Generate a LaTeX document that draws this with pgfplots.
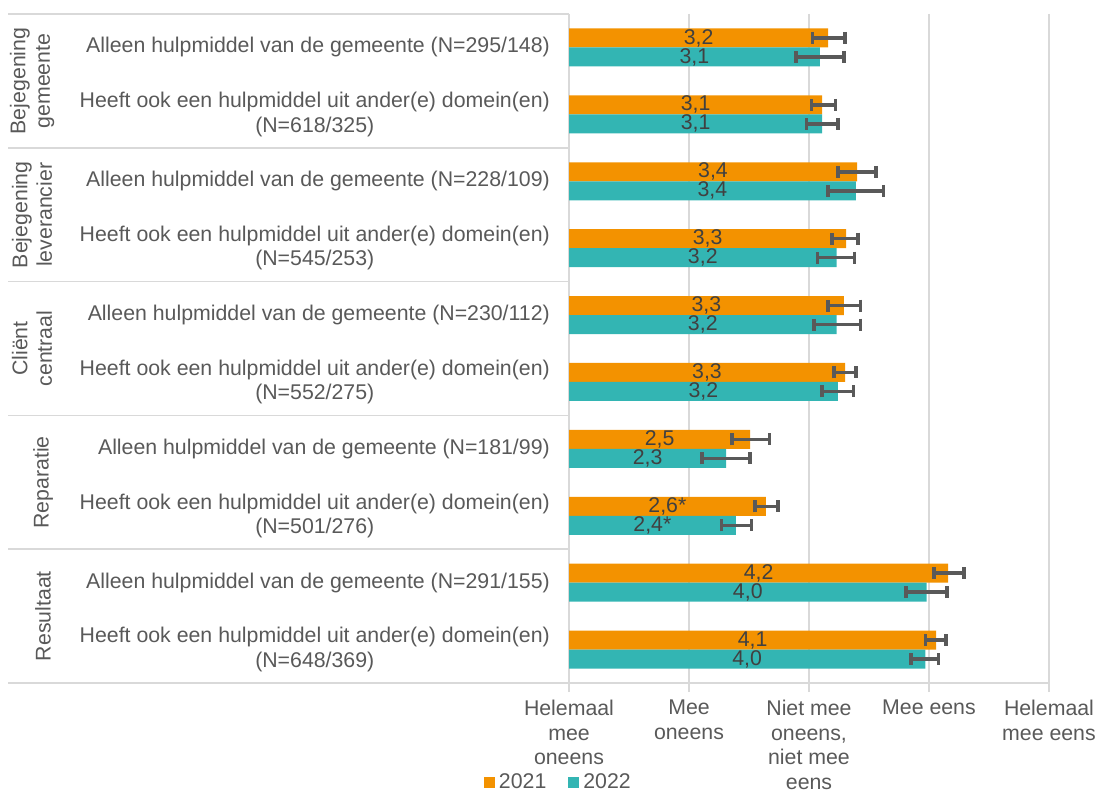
\documentclass[border=0pt]{standalone}
\usepackage{pgfplots}
\usepackage{pgfplotstable}
\pgfplotsset{compat=1.18}
\usepackage{fontspec}
\setmainfont{Liberation Sans}
\definecolor{c21}{HTML}{F39200}
\definecolor{c22}{HTML}{33B5B3}
\definecolor{gridc}{HTML}{D9D9D9}
\definecolor{txt}{HTML}{595959}
\definecolor{lab}{HTML}{404040}
\definecolor{ebc}{HTML}{595959}

\pgfplotstableread{
y  v21  p21  m21  l21   v22  p22  m22  l22
1  3.16 0.14 0.13 3,2   3.09 0.20 0.20 3,1
2  3.11 0.11 0.09 3,1   3.11 0.13 0.13 3,1
3  3.40 0.16 0.16 3,4   3.39 0.23 0.23 3,4
4  3.31 0.10 0.12 3,3   3.23 0.15 0.16 3,2
5  3.29 0.14 0.13 3,3   3.23 0.20 0.19 3,2
6  3.30 0.09 0.09 3,3   3.24 0.13 0.13 3,2
7  2.51 0.16 0.15 2,5   2.31 0.20 0.20 2,3
8  2.64 0.10 0.09 2,6*  2.39 0.13 0.12 2,4*
9  4.16 0.13 0.12 4,2   3.98 0.17 0.17 4,0
10 4.06 0.08 0.09 4,1   3.97 0.11 0.12 4,0
}\data

\newcommand{\f}{\fontsize{21.3bp}{24.5bp}\selectfont}

\begin{document}
\begin{tikzpicture}
\useasboundingbox (0,0) rectangle (1098bp,792bp);
% group separators
\foreach \yy in {778,644.2,510.4,376.6,242.8,109}{
  \draw[gridc, line width=1.5bp] (8bp,\yy bp) -- (569bp,\yy bp);
}
\node[rotate=90, align=center, font=\f, text=txt] at (32bp,711bp) {Bejegening\\gemeente};
\node[rotate=90, align=center, font=\f, text=txt] at (32bp,577.2bp) {Bejegening\\leverancier};
\node[rotate=90, align=center, font=\f, text=txt] at (32bp,443.4bp) {Cliënt\\centraal};
\node[rotate=90, align=center, font=\f, text=txt] at (43bp,309.6bp) {Reparatie};
\node[rotate=90, align=center, font=\f, text=txt] at (43bp,175.8bp) {Resultaat};
\begin{axis}[
  at={(569bp,109bp)}, anchor=south west,
  scale only axis, width=480bp, height=669bp,
  xmin=1, xmax=5, ymin=0.5, ymax=10.5, y dir=reverse,
  xbar, bar width=0.284,
  axis x line*=bottom, axis y line*=left,
  axis line style={draw=gridc, line width=1.5bp},
  xmajorgrids, grid style={draw=gridc, line width=1.5bp},
  xtick={1,2,3,4,5},
  xticklabels={{Helemaal\\mee\\oneens},{Mee\\oneens},{Niet mee\\oneens,\\niet mee\\eens},{Mee eens},{Helemaal\\mee eens}},
  tick align=outside, major tick length=9bp,
  xtick style={draw=gridc, line width=1.5bp},
  ytick={1,...,10}, ytick style={draw=none},
  yticklabels={
    {Alleen hulpmiddel van de gemeente (N=295/148)},
    {Heeft ook een hulpmiddel uit ander(e) domein(en)\\(N=618/325)},
    {Alleen hulpmiddel van de gemeente (N=228/109)},
    {Heeft ook een hulpmiddel uit ander(e) domein(en)\\(N=545/253)},
    {Alleen hulpmiddel van de gemeente (N=230/112)},
    {Heeft ook een hulpmiddel uit ander(e) domein(en)\\(N=552/275)},
    {Alleen hulpmiddel van de gemeente (N=181/99)},
    {Heeft ook een hulpmiddel uit ander(e) domein(en)\\(N=501/276)},
    {Alleen hulpmiddel van de gemeente (N=291/155)},
    {Heeft ook een hulpmiddel uit ander(e) domein(en)\\(N=648/369)}},
  every tick label/.append style={font=\f, text=txt},
  xticklabel style={align=center, anchor=north, inner sep=0pt, yshift=-8bp},
  yticklabel style={align=center, anchor=east, inner sep=0pt, xshift=-10bp},
  clip=false,
  legend columns=2,
  legend style={at={(-0.1771,-0.148)}, anchor=west, draw=none, fill=none,
     inner sep=0pt, outer sep=0pt, font=\f, text=txt,
     /tikz/every odd column/.style={column sep=4bp},
     /tikz/every even column/.style={column sep=22bp},
     nodes={inner sep=0pt}},
  legend image code/.code={\fill[#1] (0bp,-5.5bp) rectangle (11bp,5.5bp);},
  visualization depends on={rawx \as \rawx},
  nodes near coords,
  point meta=explicit symbolic,
  every node near coord/.style={anchor=center, xshift={-(\rawx-1)*60bp}, font=\f, text=lab, inner sep=0pt},
  error bars/x dir=both, error bars/x explicit,
  error bars/error mark=|,
  error bars/error bar style={line width=3.5bp, draw=ebc},
  error bars/error mark options={line width=3.5bp, draw=ebc, mark size=6bp},
]
\addplot[fill=c21, draw=none, bar shift=-0.142,
  every node near coord/.append style={yshift=9.5bp}]
  table[x=v21, y=y, meta=l21, x error plus=p21, x error minus=m21] {\data};
\addplot[fill=c22, draw=none, bar shift=0.142,
  every node near coord/.append style={yshift=-9.5bp}]
  table[x=v22, y=y, meta=l22, x error plus=p22, x error minus=m22] {\data};
\legend{2021,2022}
\end{axis}
\end{tikzpicture}
\end{document}
